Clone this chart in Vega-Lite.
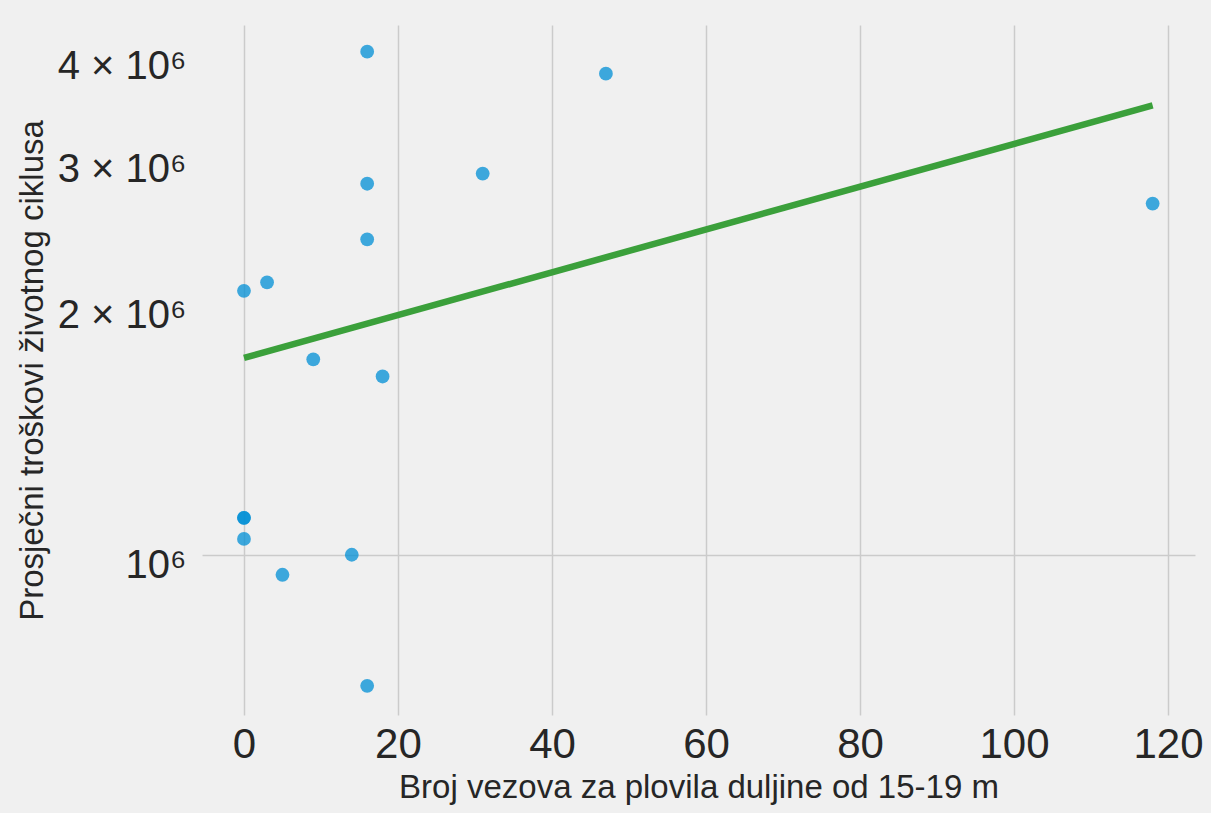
{
  "$schema": "https://vega.github.io/schema/vega-lite/v6.json",
  "autosize": {"type": "none"},
  "width": 993,
  "height": 690,
  "padding": {"left": 202, "top": 25, "right": 16, "bottom": 98},
  "background": "#f0f0f0",
  "config": {
    "view": {"fill": "#f0f0f0", "stroke": null},
    "font": "Liberation Sans"
  },
  "layer": [
    {
      "data": {
        "values": [
          {"vezovi": 16, "trosak": 4040000},
          {"vezovi": 47, "trosak": 3800000},
          {"vezovi": 31, "trosak": 2880000},
          {"vezovi": 16, "trosak": 2800000},
          {"vezovi": 118, "trosak": 2650000},
          {"vezovi": 16, "trosak": 2400000},
          {"vezovi": 3, "trosak": 2130000},
          {"vezovi": 0, "trosak": 2080000},
          {"vezovi": 9, "trosak": 1720000},
          {"vezovi": 18, "trosak": 1640000},
          {"vezovi": 0, "trosak": 1108000},
          {"vezovi": 0, "trosak": 1108000},
          {"vezovi": 0, "trosak": 1045000},
          {"vezovi": 14, "trosak": 1000000},
          {"vezovi": 5, "trosak": 946000},
          {"vezovi": 16, "trosak": 695000}
        ]
      },
      "mark": {"type": "point", "filled": true, "size": 190, "color": "#008fd5", "opacity": 0.75},
      "encoding": {
        "x": {
          "field": "vezovi", "type": "quantitative",
          "scale": {"domain": [-5.45, 123.5], "nice": false, "zero": false},
          "axis": {
            "title": "Broj vezova za plovila duljine od 15-19 m",
            "values": [0, 20, 40, 60, 80, 100, 120],
            "grid": true, "gridColor": "#cbcbcb", "gridWidth": 1.5,
            "domain": false, "ticks": false,
            "labelFontSize": 42, "labelColor": "#262626", "labelPadding": 9,
            "labelFont": "Liberation Sans",
            "titleFontSize": 33, "titleFontWeight": "normal", "titleColor": "#262626", "titlePadding": 6,
            "titleFont": "Liberation Sans"
          }
        },
        "y": {
          "field": "trosak", "type": "quantitative",
          "scale": {"type": "log", "domain": [641000, 4350000], "nice": false, "zero": false},
          "axis": {
            "title": "Prosječni troškovi životnog ciklusa",
            "values": [1000000, 2000000, 3000000, 4000000],
            "labelExpr": "datum.value == 1000000 ? '10⁶' : format(datum.value / 1000000, 'd') + ' × 10⁶'",
            "grid": true, "gridColor": "#cbcbcb", "gridWidth": 1.5,
            "gridOpacity": {"condition": {"test": "datum.value == 1000000", "value": 1}, "value": 0},
            "domain": false, "ticks": false,
            "labelFontSize": 40, "labelColor": "#262626", "labelPadding": 16, "labelOffset": 11,
            "labelFont": "Liberation Sans",
            "titleFontSize": 33, "titleFontWeight": "normal", "titleColor": "#262626", "titlePadding": 8,
            "titleFont": "Liberation Sans"
          }
        }
      }
    },
    {
      "data": {
        "values": [
          {"vezovi": 0, "trosak": 1727000},
          {"vezovi": 118, "trosak": 3480000}
        ]
      },
      "mark": {"type": "line", "color": "#3ba03b", "strokeWidth": 6.5},
      "encoding": {
        "x": {"field": "vezovi", "type": "quantitative"},
        "y": {"field": "trosak", "type": "quantitative"}
      }
    }
  ]
}
